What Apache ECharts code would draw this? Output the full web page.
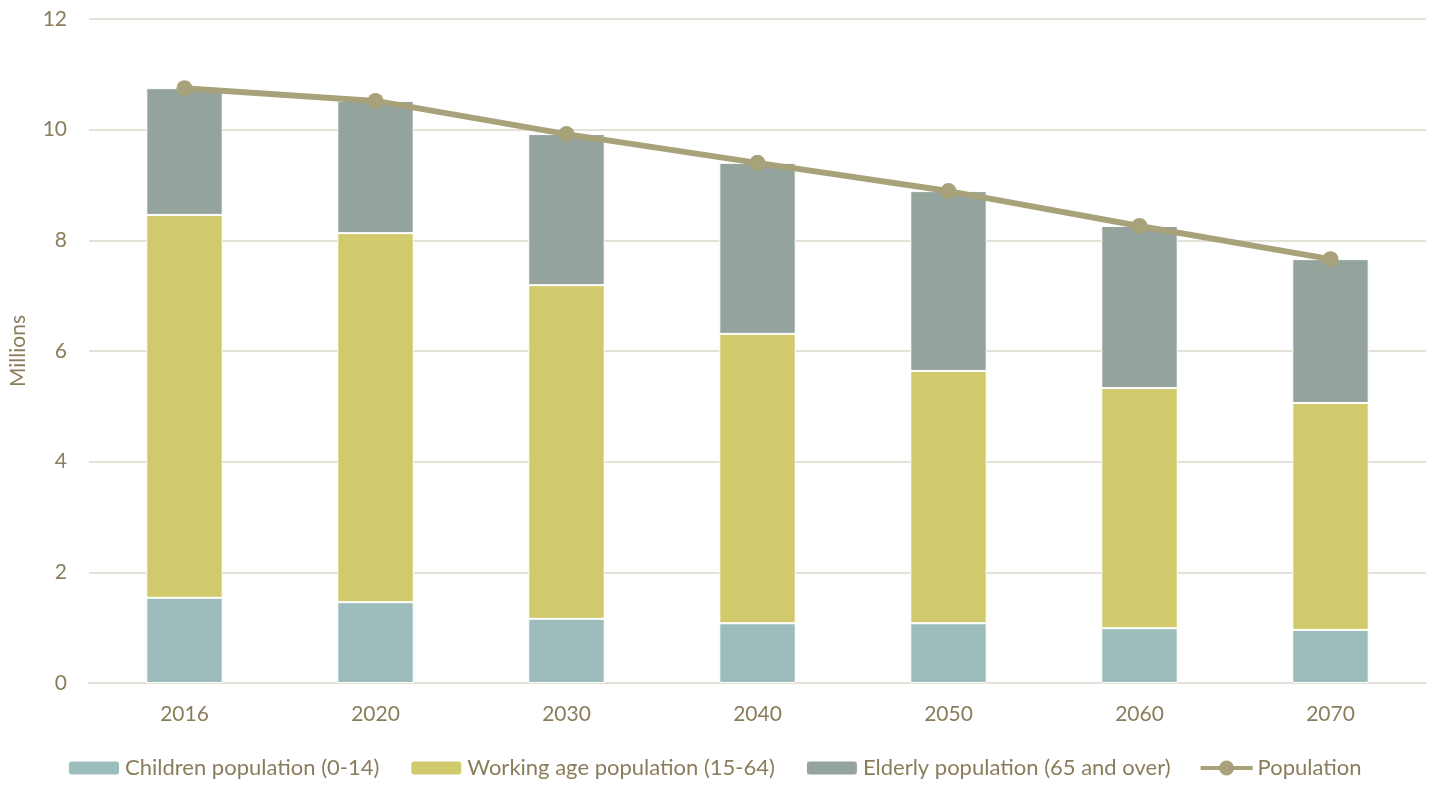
<!DOCTYPE html>
<html>
<head>
<meta charset="utf-8">
<script src="https://cdn.jsdelivr.net/npm/echarts@6/dist/echarts.min.js"></script>
<style>
  html, body { margin: 0; padding: 0; background: #fff; }
  #chart { width: 1432px; height: 786px; }
</style>
</head>
<body>
<div id="chart"></div>
<script>
  // 数据 (millions)
  const years = ['2016', '2020', '2030', '2040', '2050', '2060', '2070']
  const children = [1.54, 1.46, 1.16, 1.08, 1.08, 0.99, 0.96]
  const working = [6.92, 6.67, 6.03, 5.23, 4.56, 4.34, 4.10]
  const elderly = [2.29, 2.39, 2.73, 3.09, 3.25, 2.93, 2.60]
  const population = [10.75, 10.52, 9.92, 9.40, 8.89, 8.26, 7.66]

  const textColor = '#8B7D5B'
  const font = 'Lato, "Open Sans", sans-serif'

  const chart = echarts.init(document.getElementById('chart'))

  const barStyle = (color) => ({
    color: color,
    borderColor: '#fff',
    borderWidth: 1
  })

  // 图例里的折线 + 圆点
  const lineIcon = 'path://M0,5.5 H52 V9.5 H0 Z M18.5,7.5 A7.5,7.5 0 1 1 33.5,7.5 A7.5,7.5 0 1 1 18.5,7.5 Z'

  const option = {
    animation: false,
    textStyle: { fontFamily: font, color: textColor },
    grid: {
      left: 89,
      right: 6,
      top: 19,
      bottom: 103,
      outerBoundsMode: 'none'
    },
    legend: {
      bottom: 2,
      left: 62,
      itemWidth: 52,
      itemHeight: 15,
      itemGap: 30,
      textStyle: { fontSize: 22, color: textColor, fontFamily: font },
      data: [
        { name: 'Children population (0-14)' },
        { name: 'Working age population (15-64)' },
        { name: 'Elderly population (65 and over)' },
        { name: 'Population', icon: lineIcon }
      ]
    },
    xAxis: {
      type: 'category',
      data: years,
      axisLine: { lineStyle: { color: '#E4E1D8', width: 2 } },
      axisTick: { show: false },
      axisLabel: { fontSize: 21, color: textColor, margin: 21, fontFamily: font }
    },
    yAxis: {
      type: 'value',
      min: 0,
      max: 12,
      interval: 2,
      name: 'Millions',
      nameLocation: 'middle',
      nameGap: 60,
      nameTextStyle: { fontSize: 21, color: textColor, fontFamily: font },
      axisLine: { show: false },
      axisTick: { show: false },
      axisLabel: { fontSize: 21, color: textColor, margin: 22, fontFamily: font },
      splitLine: { lineStyle: { color: '#E4E1D8', width: 2 } }
    },
    series: [
      {
        name: 'Children population (0-14)',
        type: 'bar',
        stack: 'pop',
        barWidth: '40%',
        itemStyle: barStyle('#9DBDBC'),
        data: children
      },
      {
        name: 'Working age population (15-64)',
        type: 'bar',
        stack: 'pop',
        itemStyle: barStyle('#D1CA6C'),
        data: working
      },
      {
        name: 'Elderly population (65 and over)',
        type: 'bar',
        stack: 'pop',
        itemStyle: barStyle('#94A39B'),
        data: elderly
      },
      {
        name: 'Population',
        type: 'line',
        symbol: 'circle',
        symbolSize: 16,
        itemStyle: { color: '#A8A27A' },
        lineStyle: { color: '#A8A27A', width: 6 },
        data: population
      }
    ]
  }

  chart.setOption(option)
</script>
</body>
</html>
